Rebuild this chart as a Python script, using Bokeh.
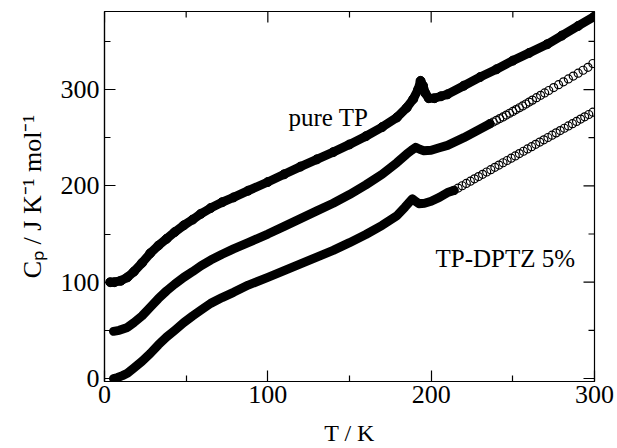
from bokeh.plotting import figure
from bokeh.models import LinearAxis, FixedTicker, Range1d, Label
from bokeh.embed import file_html
from bokeh.resources import INLINE

# ---------------- data ----------------
T_pure = [3.5, 6, 10, 14, 18, 23, 28, 33, 38, 43, 48.5, 54, 59, 65, 72, 79, 88, 100,
          110, 120, 130, 140, 150, 160, 170, 179, 185, 189, 192, 193.5, 195, 196.5,
          198.5, 202, 206, 210, 220, 230, 240, 250, 260, 271, 280, 290, 300]
Cp_pure = [100, 100, 101.5, 105, 111, 120, 130, 138, 145, 152, 159, 165, 171, 177, 183,
           188, 195, 204, 212, 220, 227.5, 235, 243, 251.5, 261, 271, 281, 290, 300,
           309, 304, 296, 291, 291, 293, 295, 304, 313, 321, 330, 338, 347, 356, 366, 376]

T_mid_dense = [5.5, 9, 14, 18, 23, 28, 33, 38, 43, 48.5, 54, 59, 65, 72, 79, 88, 100,
               110, 120, 130, 140, 150, 160, 170, 179, 185, 188, 190.5, 193, 195.5,
               200, 205, 210, 220, 230, 236]
Cp_mid_dense = [49, 50, 53, 58, 65, 74, 83, 91, 98, 105, 111, 117, 123, 129, 134.5, 141,
                150, 158, 166, 174, 182, 191, 201, 212, 224, 233, 237, 240, 238, 236.5,
                237, 239.5, 242, 250, 259, 264.5]
T_mid_open = [236, 238, 240, 242, 244, 246, 248, 250, 252, 254, 256, 258, 260, 262,
              264.5, 267, 269.5, 272, 275, 278, 281, 284, 287, 290, 293, 296, 299]
Cp_mid_open = [264.5, 266.3, 268, 269.8, 271.6, 273.5, 275.4, 277.3, 279.2, 281.1, 283,
               285, 287, 289, 291.5, 294, 296.5, 299, 302, 305, 308, 311, 314, 317, 320,
               323, 327]

T_dptz_dense = [5.5, 8, 11, 14, 18, 23, 28, 33, 38, 43, 48.5, 54, 59, 65, 72, 79, 88, 100,
                110, 120, 130, 140, 150, 160, 170, 179, 184, 188.5, 190.5, 192.5, 196,
                200, 205, 210, 214]
Cp_dptz_dense = [0, 1, 3, 5.5, 11, 18, 26, 35, 43, 50, 58, 65, 71, 78, 84, 89.5, 97, 105,
                 112, 119, 126, 133, 141, 149.5, 159, 169, 178, 186.5, 184, 181.5, 182,
                 184, 188, 193, 195.3]
T_dptz_open = [214, 216.5, 219, 221.5, 224, 226.5, 229, 231.5, 234, 236.5, 239, 241.5,
               244, 246.5, 249, 251.5, 254, 256.5, 259, 261.5, 264, 266.5, 269, 271.5,
               274, 276.5, 279, 281.5, 284, 286.5, 289, 291.5, 294, 296.5, 299]
Cp_dptz_open = [195.3, 197.7, 200.1, 202.5, 204.9, 207.3, 209.6, 212, 214.4, 216.8,
                219.2, 221.6, 224, 226.3, 228.7, 231.1, 233.5, 235.9, 238.3, 240.7,
                243.1, 245.4, 247.8, 250.2, 252.6, 255, 257.4, 259.8, 262.2, 264.5,
                266.9, 269.3, 271.7, 274.1, 276.5]

x_ticks = [0, 100, 200, 300]
x_minor = [50, 150, 250]
y_ticks = [0, 100, 200, 300]
y_minor = [50, 150, 250, 350]

x_title = "T / K"
y_title = "C\u209a / J K\u207b\u00b9 mol\u207b\u00b9"
label_pure = "pure TP"
label_dptz = "TP-DPTZ 5%"

# ---------------- layout ----------------
W, H = 617, 448
X0, X1 = 0, 300
Y0, Y1 = -3.1, 381
FL, FR, FT, FB = 104, 594, 11, 381   # frame edges in page pixels
FONT = "Liberation Serif"


def sx(px):
    return X0 + (px - FL) / (FR - FL) * (X1 - X0)


def sy(py):
    return Y0 + (FB - py) / (FB - FT) * (Y1 - Y0)


p = figure(width=W, height=H, x_range=Range1d(X0, X1), y_range=Range1d(Y0, Y1),
           output_backend="svg", toolbar_location=None,
           x_axis_type=None, y_axis_type=None,
           min_border_left=FL, min_border_right=W - FR,
           min_border_top=FT, min_border_bottom=H - FB)
p.outline_line_color = "black"
p.outline_line_width = 1.2
p.background_fill_color = "white"
p.border_fill_color = "white"

MAJ, MIN = 11, 6


def style_axis(ax):
    ax.axis_line_color = "black"
    ax.axis_line_width = 1.2
    ax.major_tick_in = MAJ
    ax.major_tick_out = 0
    ax.minor_tick_in = MIN
    ax.minor_tick_out = 0
    ax.major_tick_line_color = "black"
    ax.minor_tick_line_color = "black"
    ax.major_tick_line_width = 1.2
    ax.minor_tick_line_width = 1.2
    ax.major_label_text_font = FONT
    ax.major_label_text_font_size = "26px"
    ax.major_label_text_color = "black"
    ax.major_label_standoff = 5
    ax.axis_label_text_font = FONT
    ax.axis_label_text_font_style = "normal"
    ax.axis_label_text_color = "black"


xb = LinearAxis(ticker=FixedTicker(ticks=x_ticks, minor_ticks=x_minor), axis_label=x_title)
yl = LinearAxis(ticker=FixedTicker(ticks=y_ticks, minor_ticks=y_minor), axis_label=y_title)
style_axis(xb)
style_axis(yl)
xb.major_label_standoff = 4
xb.axis_label_text_font_size = "24px"
xb.axis_label_standoff = 14
yl.axis_label_text_font_size = "26px"
yl.axis_label_standoff = 11
p.add_layout(xb, "below")
p.add_layout(yl, "left")

# mirrored inward ticks on top and right edges
dx_maj = MAJ / (FR - FL) * (X1 - X0)
dx_min = MIN / (FR - FL) * (X1 - X0)
dy_maj = MAJ / (FB - FT) * (Y1 - Y0)
dy_min = MIN / (FB - FT) * (Y1 - Y0)
p.segment(x0=x_ticks, y0=[Y1] * len(x_ticks), x1=x_ticks, y1=[Y1 - dy_maj] * len(x_ticks),
          line_color="black", line_width=1.2)
p.segment(x0=x_minor, y0=[Y1] * len(x_minor), x1=x_minor, y1=[Y1 - dy_min] * len(x_minor),
          line_color="black", line_width=1.2)
p.segment(x0=[X1] * len(y_ticks), y0=y_ticks, x1=[X1 - dx_maj] * len(y_ticks), y1=y_ticks,
          line_color="black", line_width=1.2)
p.segment(x0=[X1] * len(y_minor), y0=y_minor, x1=[X1 - dx_min] * len(y_minor), y1=y_minor,
          line_color="black", line_width=1.2)

LW = 9

# pure TP : filled circles, dense
p.line(T_pure, Cp_pure, line_width=LW, line_color="black", line_cap="round", line_join="round")
p.scatter(T_pure, Cp_pure, marker="circle", size=LW, fill_color="black", line_color="black")

# middle sample
p.line(T_mid_dense, Cp_mid_dense, line_width=LW, line_color="black", line_cap="round", line_join="round")
p.scatter(T_mid_open, Cp_mid_open, marker="circle", size=8, fill_color=None,
          line_color="black", line_width=1.2)

# TP-DPTZ 5%
p.line(T_dptz_dense, Cp_dptz_dense, line_width=LW, line_color="black", line_cap="round", line_join="round")
p.scatter(T_dptz_open, Cp_dptz_open, marker="circle", size=8, fill_color=None,
          line_color="black", line_width=1.2)

# curve labels
p.add_layout(Label(x=sx(288), y=sy(117), text=label_pure, text_font=FONT,
                   text_font_size="25px", text_color="black",
                   text_align="left", text_baseline="alphabetic"))
p.add_layout(Label(x=sx(435), y=sy(258), text=label_dptz, text_font=FONT,
                   text_font_size="25px", text_color="black",
                   text_align="left", text_baseline="alphabetic"))

open("out.html", "w").write(file_html(p, INLINE))
